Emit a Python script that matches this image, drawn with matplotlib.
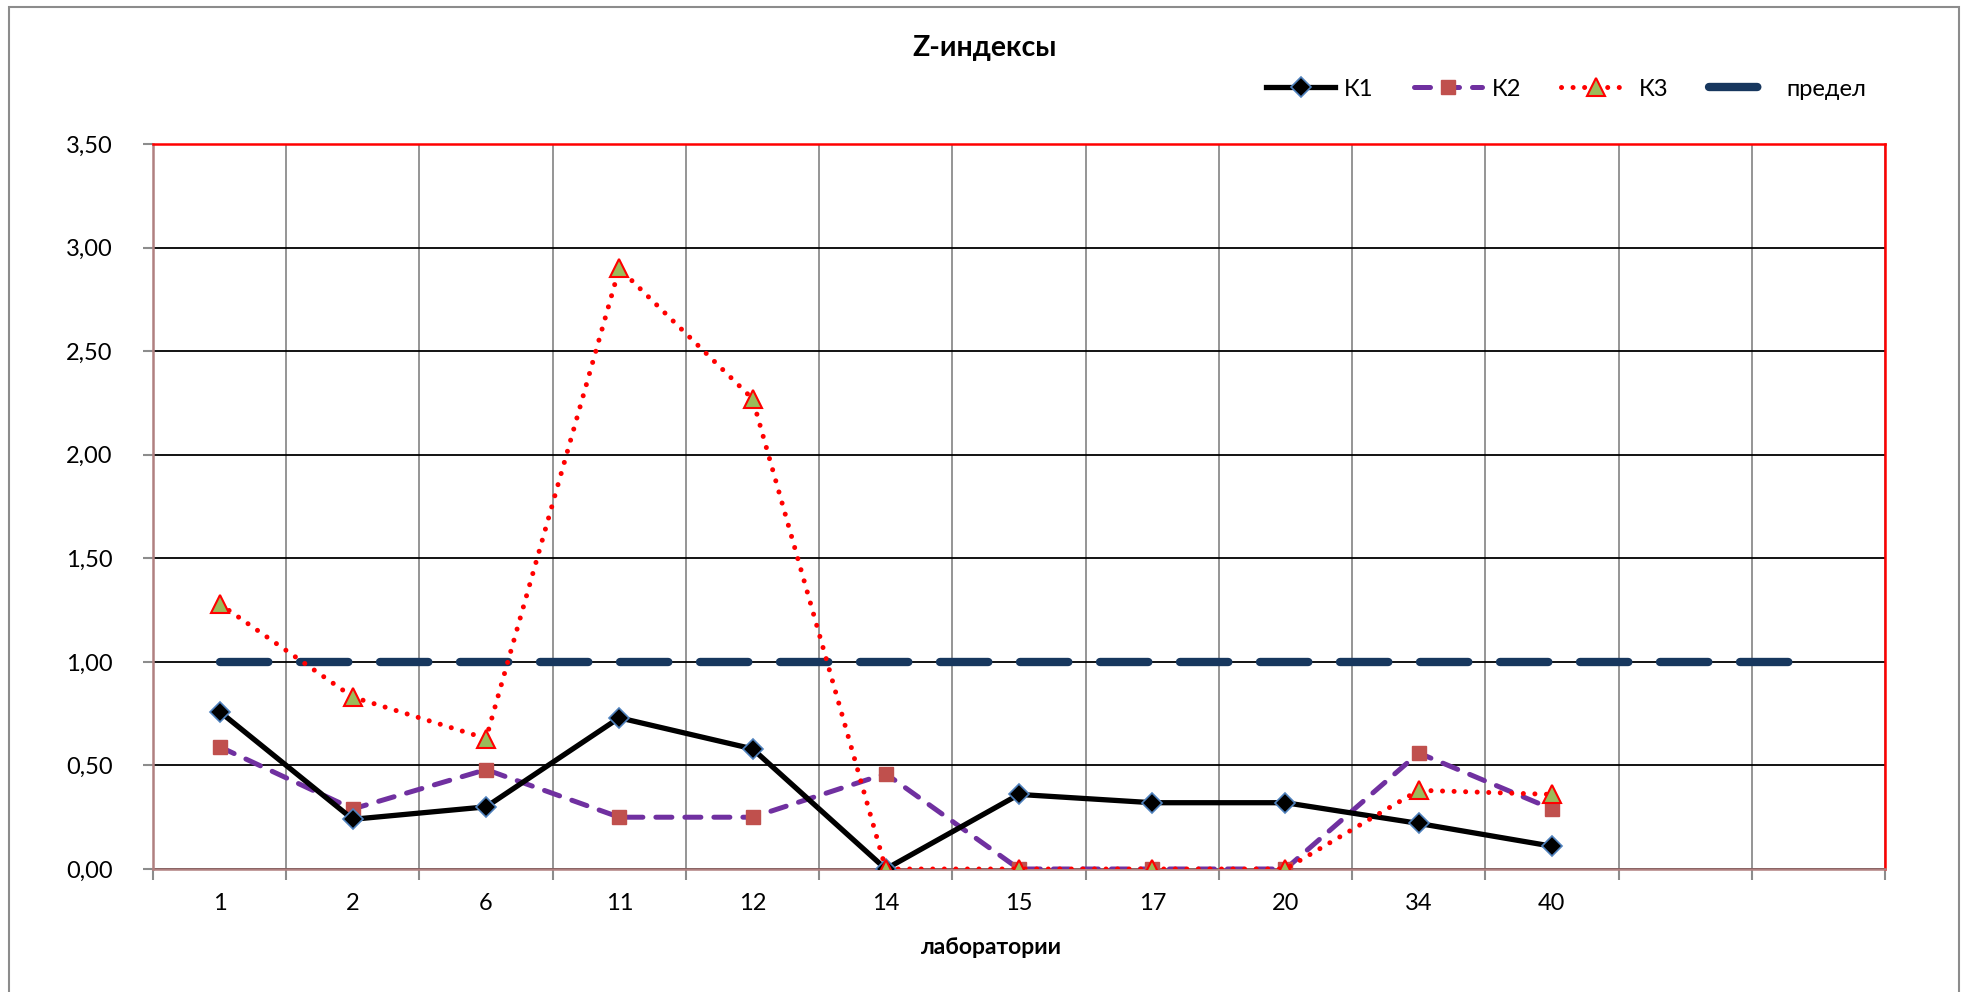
import numpy as np
import matplotlib
matplotlib.use("Agg")
import matplotlib.pyplot as plt
from matplotlib.patches import Rectangle

plt.rcParams['font.family'] = ['Lato', 'Noto Sans', 'DejaVu Sans']

# data
labs = ['1', '2', '6', '11', '12', '14', '15', '17', '20', '34', '40', '', '']
k1 = [0.76, 0.24, 0.30, 0.73, 0.58, 0.00, 0.36, 0.32, 0.32, 0.22, 0.11]
k2 = [0.59, 0.29, 0.48, 0.25, 0.25, 0.46, 0.00, 0.00, 0.00, 0.56, 0.29]
k3 = [1.28, 0.83, 0.63, 2.90, 2.27, 0.00, 0.00, 0.00, 0.00, 0.38, 0.36]
limit = [1.0] * 13

W, H = 1964, 992
fig = plt.figure(figsize=(W / 100, H / 100), dpi=100)
# plot area in pixels: left 153, right 1885, top 144, bottom 869
ax = fig.add_axes([153 / W, 1 - 869 / H, (1885 - 153) / W, (869 - 144) / H])

# outer chart frame
fig.patches.append(Rectangle((9 / W, -0.05), (1959 - 9) / W, 1.05 - 7 / H,
                             transform=fig.transFigure, fill=False,
                             edgecolor='#8c8c8c', linewidth=1.5))

x = np.arange(len(labs))
xk = x[:len(k1)]

ax.plot(x, limit, color='#17375E', lw=6, dashes=(5.8, 3.8),
        dash_capstyle='round', solid_capstyle='round', label='предел', zorder=3)
ax.plot(xk, k2, color='#7030A0', lw=3.6, dashes=(3.2, 2.6), dash_capstyle='round',
        marker='s', ms=9.5, mfc='#C0504D', mec='#C0504D', label='К2', zorder=4)
ax.plot(xk, k1, color='black', lw=3.8, marker='D', ms=10.5, mfc='black',
        mec='#4F81BD', mew=1.2, label='К1', zorder=5)
ax.plot(xk, k3, color='#FF0000', lw=3.6, dashes=(0.01, 2.3), dash_capstyle='round',
        marker='^', ms=12.5, mfc='#9BBB59', mec='#FF0000', mew=1.5, label='К3', zorder=6)

ax.set_xlim(-0.5, len(labs) - 0.5)
ax.set_ylim(0, 3.5)
yt = np.arange(0, 3.51, 0.5)
ax.set_yticks(yt)
ax.set_yticklabels([f"{v:.2f}".replace('.', ',') for v in yt])
ax.set_xticks(x)
ax.set_xticklabels(labs)
ax.set_xticks(np.arange(-0.5, len(labs), 1.0), minor=True)

ax.tick_params(axis='x', which='major', length=0, pad=17, labelsize=17)
ax.tick_params(axis='x', which='minor', length=8, width=1.5, color='#8c8c8c')
ax.tick_params(axis='y', length=7, width=1.5, color='#8c8c8c', pad=22, labelsize=17)

ax.grid(axis='y', which='major', color='black', lw=1.3)
ax.grid(axis='x', which='minor', color='#8c8c8c', lw=1.3)
ax.set_axisbelow(True)

for s in ['top', 'right']:
    ax.spines[s].set_color('#FF0000')
    ax.spines[s].set_linewidth(1.8)
for s in ['left', 'bottom']:
    ax.spines[s].set_color('#B08080')
    ax.spines[s].set_linewidth(1.8)

fig.text(985 / W, 1 - 48 / H, 'Z-индексы', ha='center', va='center',
         fontsize=20.5, fontweight='bold')
fig.text(991 / W, 1 - 948 / H, 'лаборатории', ha='center', va='center',
         fontsize=16.5, fontweight='bold')

h, l = ax.get_legend_handles_labels()
order = [l.index('К1'), l.index('К2'), l.index('К3'), l.index('предел')]
fig.legend([h[i] for i in order], [l[i] for i in order], ncol=4,
           loc='center right', bbox_to_anchor=(1888 / W, 1 - 89 / H),
           frameon=False, fontsize=17, handlelength=2.9, columnspacing=1.7,
           handletextpad=0.4)

fig.savefig('out.png', dpi=100)
